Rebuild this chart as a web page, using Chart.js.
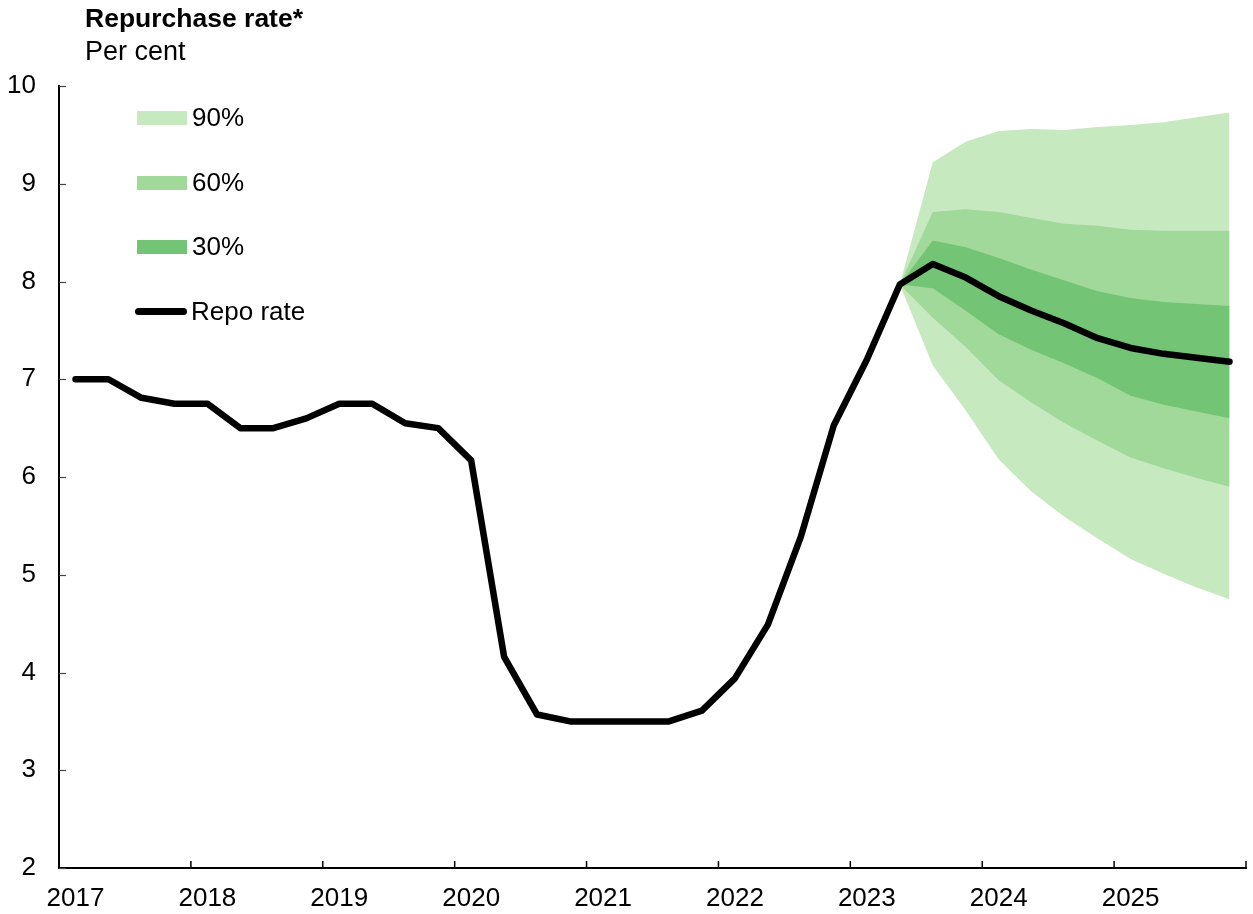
<!DOCTYPE html>
<html>
<head>
<meta charset="utf-8">
<script src="https://cdn.jsdelivr.net/npm/chart.js@4"></script>
<style>
  body { margin: 0; background: #fff; font-family: "Liberation Sans", Arial, sans-serif; }
  #wrap { position: relative; width: 1253px; height: 914px; }
  .title { position: absolute; left: 85px; top: 3px; font-size: 26.5px; font-weight: bold; color: #000; }
  .sub { position: absolute; left: 85px; top: 36px; font-size: 27px; color: #000; }
  .leg { position: absolute; left: 137px; font-size: 26px; color: #000; display: flex; align-items: center; }
  .leg span.box { display: inline-block; width: 50px; height: 14px; margin-right: 5px; }
  .leg span.ln { display: inline-block; width: 52px; height: 7px; border-radius: 3.5px; background: #000; margin-right: 4px; margin-left: -2px; }
</style>
</head>
<body>
<div id="wrap">
  <canvas id="chart"></canvas>
  <div class="title">Repurchase rate*</div>
  <div class="sub">Per cent</div>
  <div class="leg" style="top:102px"><span class="box" style="background:#c7e9c0"></span>90%</div>
  <div class="leg" style="top:167px"><span class="box" style="background:#a1d99b"></span>60%</div>
  <div class="leg" style="top:231px"><span class="box" style="background:#74c476"></span>30%</div>
  <div class="leg" style="top:296px"><span class="ln"></span>Repo rate</div>
</div>
<script>
// quarterly, 2017 Q1 .. 2025 Q4
const years = [2017, 2018, 2019, 2020, 2021, 2022, 2023, 2024, 2025]
const repoRate = [
  7.00, 7.00, 6.81, 6.75,
  6.75, 6.50, 6.50, 6.60,
  6.75, 6.75, 6.55, 6.50,
  6.17, 4.16, 3.57, 3.50,
  3.50, 3.50, 3.50, 3.61,
  3.94, 4.49, 5.39, 6.53,
  7.20, 7.97, 8.18, 8.04,
  7.85, 7.70, 7.57, 7.42,
  7.32, 7.26, 7.22, 7.18
]
// uncertainty bands start at 2023 Q2 (index 25)
const fanStart = 25
const upper90 = [7.97, 9.22, 9.43, 9.54, 9.56, 9.55, 9.58, 9.60, 9.63, 9.68, 9.73]
const upper60 = [7.97, 8.71, 8.74, 8.71, 8.65, 8.59, 8.57, 8.53, 8.52, 8.52, 8.52]
const upper30 = [7.97, 8.42, 8.35, 8.24, 8.12, 8.01, 7.90, 7.83, 7.79, 7.77, 7.75]
const lower30 = [7.97, 7.93, 7.70, 7.46, 7.30, 7.16, 7.01, 6.83, 6.74, 6.67, 6.60]
const lower60 = [7.97, 7.63, 7.33, 6.99, 6.76, 6.55, 6.37, 6.20, 6.09, 5.99, 5.90]
const lower90 = [7.97, 7.14, 6.68, 6.18, 5.85, 5.59, 5.37, 5.16, 5.01, 4.87, 4.75]
const yTicks = [2, 3, 4, 5, 6, 7, 8, 9, 10]

const toPts = arr => arr.map((v, i) => ({x: i + 0.5, y: v}))
const toFan = arr => arr.map((v, i) => ({x: fanStart + i + 0.5, y: v}))

function band(upper, lower, color, order) {
  return [
    {data: toFan(upper), fill: "+1", backgroundColor: color, borderWidth: 0, pointRadius: 0, order: order},
    {data: toFan(lower), fill: false, borderWidth: 0, pointRadius: 0, order: order},
  ]
}

// tick marks pointing into the plot
const innerTicks = {
  id: "innerTicks",
  afterDraw(c) {
    const ctx = c.ctx, x = c.scales.x, y = c.scales.y
    ctx.save()
    ctx.strokeStyle = "#444"
    ctx.lineWidth = 1.2
    yTicks.forEach(v => {
      const py = Math.round(y.getPixelForValue(v)) + 0.5
      ctx.beginPath(); ctx.moveTo(x.left, py); ctx.lineTo(x.left + 7, py); ctx.stroke()
    })
    ctx.strokeStyle = "#000"
    ctx.lineWidth = 1.5
    for (let q = 0; q <= years.length * 4; q += 4) {
      const px = x.getPixelForValue(q)
      ctx.beginPath(); ctx.moveTo(px, y.bottom); ctx.lineTo(px, y.bottom - 7); ctx.stroke()
    }
    ctx.restore()
  }
}

Chart.defaults.font.family = '"Liberation Sans", Arial, sans-serif'
Chart.defaults.color = "#000"

const chart = new Chart("chart", {
  type: "line",
  data: {
    datasets: [
      {data: toPts(repoRate), borderColor: "#000", borderWidth: 6.5, pointRadius: 0, fill: false,
       borderCapStyle: "round", borderJoinStyle: "round", order: 0},
      ...band(upper30, lower30, "#74c476", 1),
      ...band(upper60, lower60, "#a1d99b", 2),
      ...band(upper90, lower90, "#c7e9c0", 3),
    ]
  },
  options: {
    responsive: true,
    maintainAspectRatio: false,
    animation: false,
    layout: {padding: {top: 86, right: 3, left: 0, bottom: 0}},
    plugins: {
      legend: {display: false},
      tooltip: {enabled: false},
    },
    scales: {
      x: {
        type: "linear",
        min: 0,
        max: years.length * 4,
        afterFit: s => { s.height = 46 },
        border: {color: "#000", width: 2},
        grid: {display: false},
        ticks: {
          stepSize: 4,
          autoSkip: false,
          maxRotation: 0,
          padding: 7,
          labelOffset: 16.5,
          font: {size: 26},
          callback: v => (v / 4 < years.length ? String(years[v / 4]) : ""),
        },
      },
      y: {
        min: 2,
        max: 10,
        afterFit: s => { s.width = 59 },
        border: {color: "#000", width: 2},
        grid: {display: false},
        ticks: {stepSize: 1, padding: 15, font: {size: 26}},
      },
    },
  },
  plugins: [innerTicks],
})
</script>
</body>
</html>
